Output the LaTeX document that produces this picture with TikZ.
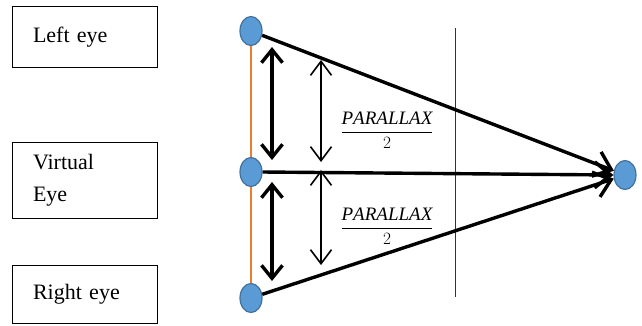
\documentclass[tikz,border=0pt]{standalone}
\usepackage{amsmath}
\usepackage{fontspec}
\setmainfont{Liberation Serif}
\usetikzlibrary{shapes.geometric,arrows.meta}
\definecolor{eyefill}{HTML}{5B9BD5}
\definecolor{eyeborder}{HTML}{41719C}
\definecolor{orangeline}{HTML}{ED7D31}
\tikzset{
  labelbox/.style={draw=black, line width=0.8pt, minimum width=145pt, text width=103pt, align=left, inner sep=0pt, font=\fontsize{22}{32}\selectfont},
  eye/.style={ellipse, fill=eyefill, draw=eyeborder, line width=1.2pt, minimum width=22pt, minimum height=29pt, inner sep=0pt},
  sight/.style={line width=3.4pt, -{Straight Barb[length=16pt,width=26pt,line width=3.4pt]}},
  bigdim/.style={line width=3.4pt, {Straight Barb[length=13pt,width=21pt,line width=3.4pt]}-{Straight Barb[length=13pt,width=21pt,line width=3.4pt]}},
  smalldim/.style={line width=1.6pt, {Straight Barb[length=14pt,width=21pt,line width=1.6pt]}-{Straight Barb[length=14pt,width=21pt,line width=1.6pt]}},
  frac/.style={font=\fontsize{19}{22}\selectfont, inner sep=0pt}
}
\begin{document}
\begin{tikzpicture}[x=1pt,y=-1pt]
\useasboundingbox (0,0) rectangle (642,325);
% label boxes
\node[labelbox, minimum height=61pt] (bl) at (84.5,37) {Left eye};
\node[labelbox, minimum height=76pt] (bv) at (84.5,180) {Virtual\\Eye};
\node[labelbox, minimum height=58pt] (br) at (84.5,294) {Right eye};
% orange baseline
\coordinate (ot) at (251,40);
\coordinate (ob) at (251,290);
\draw[orangeline, line width=2.8pt] (ot) -- (ob);
% eyes
\node[eye] (L) at (251,31) {};
\node[eye] (V) at (251,172) {};
\node[eye] (R) at (251,298) {};
\node[eye] (T) at (625,175) {};
% thin vertical line
\coordinate (pt) at (455,28);
\coordinate (pb) at (455,297);
\draw[line width=0.9pt, black!80] (pt) -- (pb);
% sight lines
\draw[sight] (L) -- (T);
\draw[sight] (V.east) -- (T.west);
\draw[sight] (R) -- (T);
% thick dimension arrows
\coordinate (a1) at (272,47);
\coordinate (a2) at (272,160);
\coordinate (a3) at (272,182);
\coordinate (a4) at (272,281);
\draw[bigdim] (a1) -- (a2);
\draw[bigdim] (a3) -- (a4);
% thin dimension arrows
\coordinate (b1) at (321,60);
\coordinate (b2) at (321,162);
\coordinate (b3) at (321,170);
\coordinate (b4) at (321,265);
\draw[smalldim] (b1) -- (b2);
\draw[smalldim] (b3) -- (b4);
% fractions
\node[frac] (f1) at (387,130) {$\dfrac{\mathit{PARALLAX}}{2}$};
\node[frac] (f2) at (387,226) {$\dfrac{\mathit{PARALLAX}}{2}$};
\end{tikzpicture}
\end{document}
